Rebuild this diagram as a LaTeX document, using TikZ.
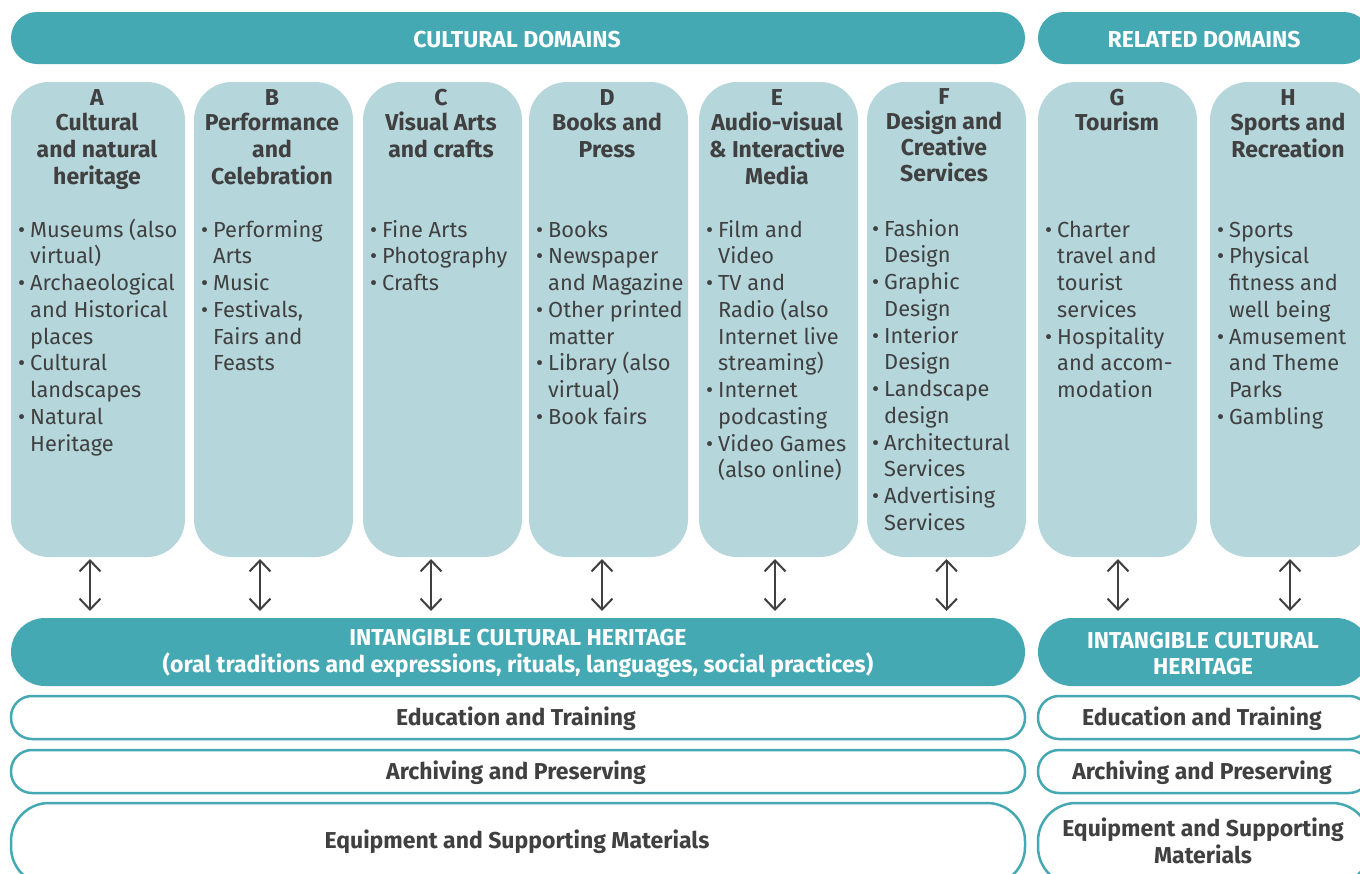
\documentclass[tikz,border=0pt]{standalone}
\usepackage{fontspec}
\setmainfont{Fira Sans}
\usetikzlibrary{arrows.meta}
\definecolor{cdteal}{HTML}{45A9B4}
\definecolor{cdlight}{HTML}{B5D6DB}
\definecolor{cdtext}{HTML}{404040}
\newcommand\fs{\fontsize{21.8}{26.75}\selectfont}
\newcommand\fsb{\fontsize{23}{26.9}\selectfont\bfseries}
\newcommand\bl[1]{\makebox[12pt][l]{\textbullet}#1}
\newcommand\cl[1]{\hspace*{12pt}#1}
\tikzset{
  bar/.style={fill=cdteal, inner sep=0pt, outer sep=0pt, anchor=north west},
  bartext/.style={text=white, font=\fsb, align=center, inner sep=0pt},
  colbox/.style={fill=cdlight, rounded corners=38pt, inner sep=0pt, outer sep=0pt, anchor=north west},
  head/.style={anchor=base, inner sep=0pt, text=cdtext, font=\fsb},
  items/.style={anchor=base west, inner sep=0pt, text=cdtext, font=\fs},
  outbox/.style={draw=cdteal, fill=white, line width=2.5pt, inner sep=0pt, outer sep=0pt, anchor=north west},
  boxtext/.style={text=cdtext, font=\fsb, align=center, inner sep=0pt},
  biarr/.style={draw=cdtext, line width=2pt, {Straight Barb[length=11pt,width=21pt]}-{Straight Barb[length=11pt,width=21pt]}, shorten <=2pt, shorten >=7pt}
}
\begin{document}
\begin{tikzpicture}[x=1pt,y=-1pt]
\clip (0,0) rectangle (1360,873);
\fill[white] (0,0) rectangle (1360,873);
% top bars
\node[bar, rounded corners=26pt, minimum width=1014pt, minimum height=52pt] (cd) at (11,12) {};
\node[bartext] (cdt) at (517,39.5) {CULTURAL DOMAINS};
\node[bar, rounded corners=26pt, minimum width=332pt, minimum height=52pt] (rd) at (1038,12) {};
\node[bartext] (rdt) at (1204,39.5) {RELATED DOMAINS};
% columns
\node[colbox, minimum width=174pt, minimum height=475pt] (colA) at (11,82) {};
\node[colbox, minimum width=159pt, minimum height=475pt] (colB) at (194,82) {};
\node[colbox, minimum width=159pt, minimum height=475pt] (colC) at (363,82) {};
\node[colbox, minimum width=159pt, minimum height=475pt] (colD) at (529,82) {};
\node[colbox, minimum width=159pt, minimum height=475pt] (colE) at (699,82) {};
\node[colbox, minimum width=159pt, minimum height=475pt] (colF) at (867,82) {};
\node[colbox, minimum width=159pt, minimum height=475pt] (colG) at (1038,82) {};
\node[colbox, minimum width=160pt, minimum height=475pt] (colH) at (1210,82) {};
% headings
\node[head] (hA) at (97,105.5) {\parbox[t]{170pt}{\centering A\\[-1.9pt]Cultural\\and natural\\heritage}};
\node[head] (hB) at (272,105.5) {\parbox[t]{170pt}{\centering B\\[-1.9pt]Performance\\and\\Celebration}};
\node[head] (hC) at (441,105.5) {\parbox[t]{170pt}{\centering C\\[-1.9pt]Visual Arts\\and crafts}};
\node[head] (hD) at (607,105.5) {\parbox[t]{170pt}{\centering D\\[-1.9pt]Books and\\Press}};
\node[head] (hE) at (777,105.5) {\parbox[t]{170pt}{\centering E\\[-1.9pt]Audio-visual\\\& Interactive\\Media}};
\node[head] (hF) at (944,104.5) {\parbox[t]{170pt}{\centering F\\[-1.9pt]Design and\\[-0.9pt]Creative\\[-0.9pt]Services}};
\node[head] (hG) at (1117,105.5) {\parbox[t]{170pt}{\centering G\\[-1.9pt]Tourism}};
\node[head] (hH) at (1288,105.5) {\parbox[t]{170pt}{\centering H\\[-1.9pt]Sports and\\Recreation}};
% items
\node[items] (iA) at (18,237) {\parbox[t]{170pt}{\raggedright\bl{Museums (also}\\\cl{virtual)}\\\bl{Archaeological}\\\cl{and Historical}\\\cl{places}\\\bl{Cultural}\\\cl{landscapes}\\\bl{Natural}\\\cl{Heritage}}};
\node[items] (iB) at (201,237) {\parbox[t]{170pt}{\raggedright\bl{Performing}\\\cl{Arts}\\\bl{Music}\\\bl{Festivals,}\\\cl{Fairs and}\\\cl{Feasts}}};
\node[items] (iC) at (370,237) {\parbox[t]{170pt}{\raggedright\bl{Fine Arts}\\\bl{Photography}\\\bl{Crafts}}};
\node[items] (iD) at (536,237) {\parbox[t]{170pt}{\raggedright\bl{Books}\\\bl{Newspaper}\\\cl{and Magazine}\\\bl{Other printed}\\\cl{matter}\\\bl{Library (also}\\\cl{virtual)}\\\bl{Book fairs}}};
\node[items] (iE) at (706,237) {\parbox[t]{170pt}{\raggedright\bl{Film and}\\\cl{Video}\\\bl{TV and}\\\cl{Radio (also}\\\cl{Internet live}\\\cl{streaming)}\\\bl{Internet}\\\cl{podcasting}\\\bl{Video Games}\\\cl{(also online)}}};
\node[items] (iF) at (872,236) {\parbox[t]{170pt}{\raggedright\bl{Fashion}\\\cl{Design}\\\bl{Graphic}\\\cl{Design}\\\bl{Interior}\\\cl{Design}\\\bl{Landscape}\\\cl{design}\\\bl{Architectural}\\\cl{Services}\\\bl{Advertising}\\\cl{Services}}};
\node[items] (iG) at (1045,237) {\parbox[t]{170pt}{\raggedright\bl{Charter}\\\cl{travel and}\\\cl{tourist}\\\cl{services}\\\bl{Hospitality}\\\cl{and accom-}\\\cl{modation}}};
\node[items] (iH) at (1217,237) {\parbox[t]{170pt}{\raggedright\bl{Sports}\\\bl{Physical}\\\cl{fitness and}\\\cl{well being}\\\bl{Amusement}\\\cl{and Theme}\\\cl{Parks}\\\bl{Gambling}}};
% intangible heritage bars
\node[bar, rounded corners=34pt, minimum width=1014pt, minimum height=68pt] (ich) at (11,618) {};
\node[bartext] (icht) at (518,653.5) {INTANGIBLE CULTURAL HERITAGE\\(oral traditions and expressions, rituals, languages, social practices)};
\node[bar, rounded corners=34pt, minimum width=332pt, minimum height=68pt] (ichr) at (1038,618) {};
\node[bartext] (ichrt) at (1203,653.5) {INTANGIBLE CULTURAL\\HERITAGE};
% arrows
\foreach \c/\dx/\t in {colA/-8/ich, colB/-13.5/ich, colC/-11.5/ich, colD/-6.5/ich, colE/-3.5/ich, colF/0/ich, colG/0.5/ichr, colH/0/ichr}
  \draw[biarr] ([xshift=\dx pt]\c.south) -- ([xshift=\dx pt]\c.south |- \t.north);
% outlined boxes
\node[outbox, rounded corners=21pt, minimum width=1014pt, minimum height=43pt] (edu) at (11,696) {};
\node[boxtext] (edut) at (516,719) {Education and Training};
\node[outbox, rounded corners=21pt, minimum width=332pt, minimum height=43pt] (edur) at (1038,696) {};
\node[boxtext] (edurt) at (1202,719) {Education and Training};
\node[outbox, rounded corners=21pt, minimum width=1014pt, minimum height=43pt] (arc) at (11,750) {};
\node[boxtext] (arct) at (516,773) {Archiving and Preserving};
\node[outbox, rounded corners=21pt, minimum width=332pt, minimum height=43pt] (arcr) at (1038,750) {};
\node[boxtext] (arcrt) at (1202,773) {Archiving and Preserving};
\node[outbox, rounded corners=38pt, minimum width=1014pt, minimum height=82pt] (eqp) at (11,803) {};
\node[boxtext] (eqpt) at (517,842) {Equipment and Supporting Materials};
\node[outbox, rounded corners=38pt, minimum width=332pt, minimum height=82pt] (eqpr) at (1038,803) {};
\node[boxtext] (eqprt) at (1203,841) {Equipment and Supporting\\Materials};
\end{tikzpicture}
\end{document}
